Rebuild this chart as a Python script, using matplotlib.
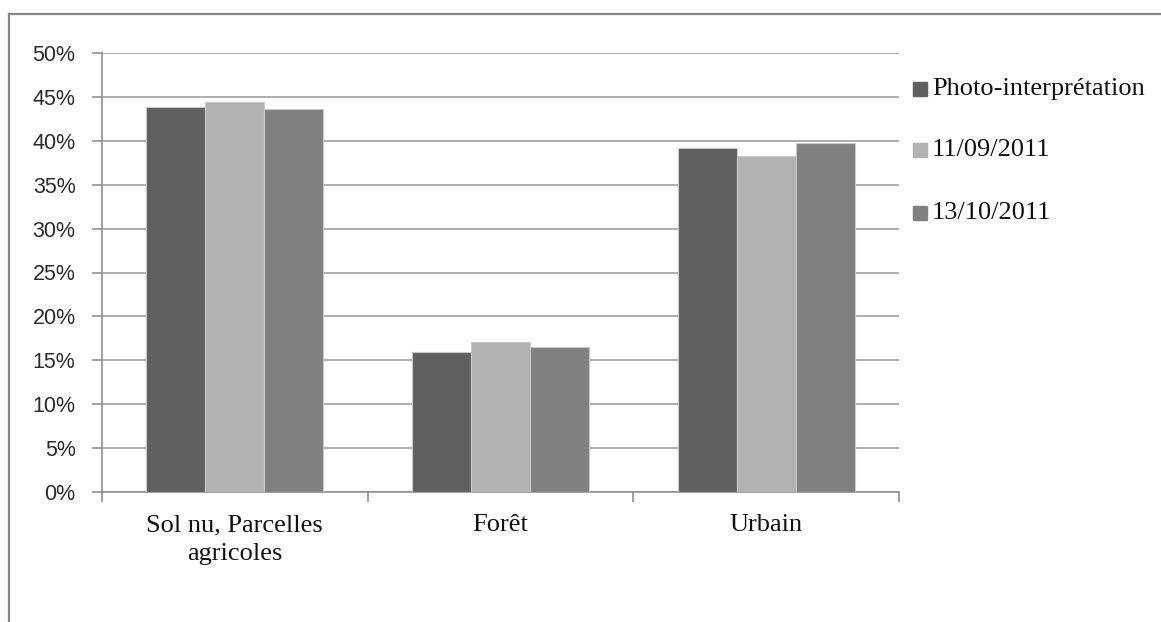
import matplotlib
matplotlib.use("Agg")
import matplotlib.pyplot as plt
import numpy as np
from matplotlib.lines import Line2D
from matplotlib.patches import Rectangle

categories = ["Sol nu, Parcelles\nagricoles", "Forêt", "Urbain"]
series_names = ["Photo-interprétation", "11/09/2011", "13/10/2011"]
photo = [43.9, 16.0, 39.2]
sep11 = [44.45, 17.1, 38.3]
oct13 = [43.6, 16.55, 39.7]
series_values = [photo, sep11, oct13]
colors = ["#606060", "#b2b2b2", "#808080"]
yticks = [0, 5, 10, 15, 20, 25, 30, 35, 40, 45, 50]

W, H = 1161, 622
fig = plt.figure(figsize=(W / 100, H / 100), dpi=100)
fig.patch.set_facecolor("white")

# outer frame (left and top lines)
fig.add_artist(Line2D([9 / W, 9 / W], [0, 1 - 14 / H], transform=fig.transFigure,
                      color="#868686", lw=1.6))
fig.add_artist(Line2D([9 / W, 1], [1 - 14 / H, 1 - 14 / H], transform=fig.transFigure,
                      color="#868686", lw=1.6))

ax = fig.add_axes([102 / W, 1 - 492 / H, (899 - 102) / W, (492 - 53) / H])
x = np.arange(len(categories))
bw = 1 / 4.5
for i, (vals, c, name) in enumerate(zip(series_values, colors, series_names)):
    ax.bar(x + (i - 1) * bw, vals, width=bw, color=c, edgecolor="#c8c8c8",
           linewidth=0.8, label=name, zorder=3)

ax.set_xlim(-0.5, 2.5)
ax.set_ylim(0, 50)
ax.set_yticks(yticks)
ax.set_yticklabels([f"{v}%" for v in yticks], fontfamily="Liberation Sans",
                   fontsize=15.5, color="#2a2a2a")
ax.yaxis.grid(True, color="#a0a0a0", lw=1.2, zorder=0)
ax.set_axisbelow(True)

ax.set_xticks(x)
ax.set_xticklabels(categories, fontfamily="Liberation Serif", fontsize=19,
                   color="#111111", linespacing=1.4)
ax.set_xticks([-0.5, 0.5, 1.5, 2.5], minor=True)
ax.tick_params(axis="x", which="major", length=0, pad=16)
ax.tick_params(axis="x", which="minor", length=7, color="#909090", width=1.2)
ax.tick_params(axis="y", length=7, color="#909090", width=1.2, pad=12)

for s in ["top", "right"]:
    ax.spines[s].set_visible(False)
for s in ["left", "bottom"]:
    ax.spines[s].set_color("#909090")
    ax.spines[s].set_linewidth(1.2)

# legend
leg_y = [89, 150, 213]
for name, c, yy in zip(series_names, colors, leg_y):
    fig.add_artist(Rectangle((913 / W, 1 - (yy + 7) / H), 14 / W, 14 / H,
                             transform=fig.transFigure, color=c))
    fig.text(932 / W, 1 - yy / H, name, fontfamily="Liberation Serif", fontsize=19,
             va="center", ha="left", color="#111111")

fig.savefig("out.png", dpi=100, facecolor="white")
